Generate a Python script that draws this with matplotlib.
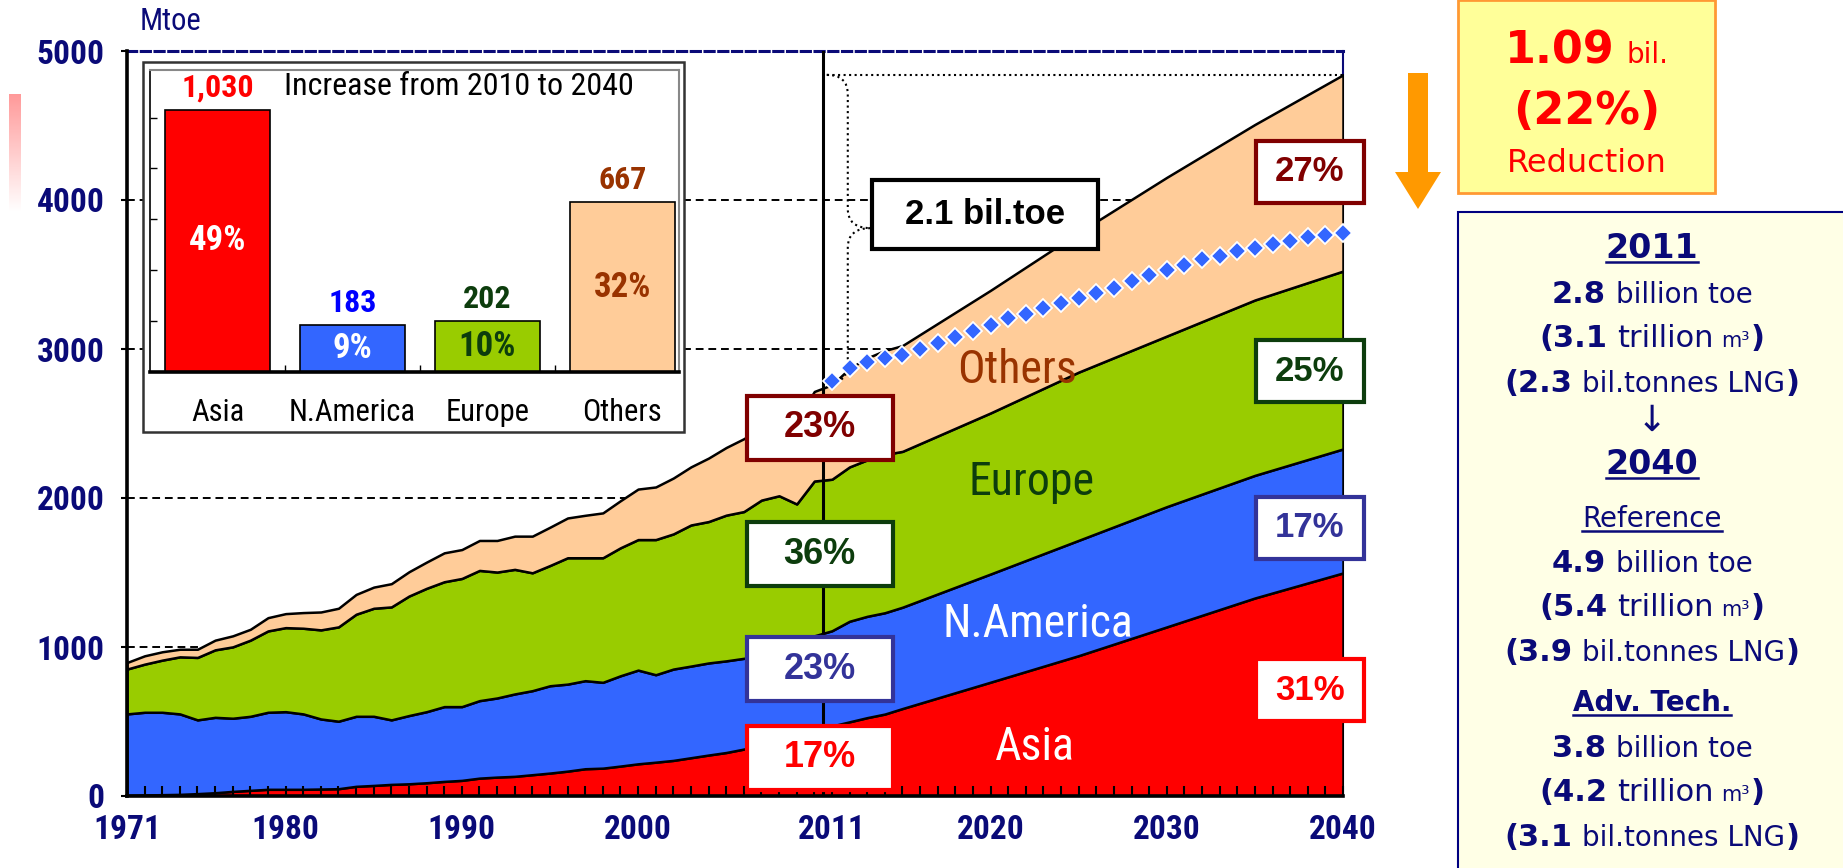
import numpy as np
import matplotlib
matplotlib.use("Agg")
import matplotlib.pyplot as plt
from matplotlib.patches import Rectangle, Polygon, PathPatch
from matplotlib.path import Path
from matplotlib.lines import Line2D
from matplotlib.colors import LinearSegmentedColormap
from matplotlib import font_manager

# ---- data (Mtoe) ----
years = list(range(1971, 2015)) + [2015, 2020, 2025, 2030, 2035, 2040]

asia = [4, 7, 9, 11, 16, 22, 31, 38, 45, 45, 45, 47, 49, 65, 71, 78, 82, 89, 98, 105,
        120, 127, 132, 143, 154, 167, 183, 187, 201, 216, 227, 239, 257, 275, 292, 315,
        345, 385, 420, 465, 470, 498, 526, 550,
        587, 764, 942, 1135, 1329, 1497]
namerica = [547, 555, 553, 540, 495, 506, 491, 497, 517, 521, 506, 470, 453, 470, 464,
            433, 458, 477, 502, 495, 520, 531, 553, 564, 586, 584, 591, 576, 606, 629,
            587, 613, 615, 618, 615, 609, 590, 570, 550, 610, 639, 675, 680, 680,
            680, 726, 774, 807, 823, 832]
europe = [301, 323, 350, 383, 419, 453, 479, 511, 546, 564, 575, 598, 633, 685, 725,
          758, 802, 828, 838, 860, 874, 845, 836, 791, 807, 848, 825, 836, 859, 876,
          907, 907, 947, 949, 978, 985, 1051, 1060, 990, 1039, 1017, 1036, 1050, 1062,
          1046, 1081, 1129, 1145, 1177, 1194]
others = [44, 56, 56, 51, 55, 65, 74, 73, 89, 94, 105, 120, 125, 133, 142, 156, 163,
          176, 194, 194, 201, 212, 223, 246, 257, 267, 285, 301, 316, 339, 353, 375,
          390, 426, 454, 489, 484, 535, 560, 601, 634, 661, 684, 698,
          710, 823, 936, 1065, 1178, 1317]

# Advanced technologies case, total 2011-2040
adv_years = list(range(2011, 2041))
adv_total = [2782, 2871, 2911, 2942, 2960, 2998, 3038, 3082, 3122, 3160, 3205, 3238,
             3276, 3310, 3343, 3379, 3412, 3454, 3494, 3532, 3566, 3601, 3624, 3655,
             3677, 3705, 3722, 3751, 3768, 3777]

regions = ["Asia", "N.America", "Europe", "Others"]
increase = [1030, 183, 202, 667]
increase_share = ["49%", "9%", "10%", "32%"]
share_2011 = ["17%", "23%", "36%", "23%"]
share_2040 = ["31%", "17%", "25%", "27%"]

x_ticks = [1971, 1980, 1990, 2000, 2011, 2020, 2030, 2040]
y_ticks = [0, 1000, 2000, 3000, 4000, 5000]

# ---- style ----
W, H = 1843, 868
NAVY = "#0a0a78"
C_ASIA, C_NA, C_EU, C_OT = "#ff0000", "#3366ff", "#99cc00", "#ffcc99"
DARK_RED, DARK_GREEN, DARK_BLUE, BROWN = "#800000", "#0d3d0d", "#333399", "#993300"

names = {f.name for f in font_manager.fontManager.ttflist}


def pick(cands, default="DejaVu Sans"):
    for c in cands:
        if c in names:
            return c
    return default


NARROW = pick(["Liberation Sans Narrow", "Arial Narrow", "Roboto Condensed", "Archivo Narrow",
               "PT Sans Narrow", "IBM Plex Sans Condensed", "Open Sans Condensed"])
ARIAL = pick(["Liberation Sans", "Arimo", "Arial"])


def fx(px):
    return px / W


def fy(py):
    return 1 - py / H


fig = plt.figure(figsize=(W / 100, H / 100), dpi=100)
fig.patch.set_facecolor("white")

# ---- main stacked area chart ----
AX_L, AX_R, AX_T, AX_B = 127, 1343, 51, 796
ax = fig.add_axes([fx(AX_L), fy(AX_B), (AX_R - AX_L) / W, (AX_B - AX_T) / H])

ax.stackplot(years, asia, namerica, europe, others,
             colors=[C_ASIA, C_NA, C_EU, C_OT], edgecolor="black", linewidth=1.8, zorder=1)

for v in y_ticks[1:-1]:
    ax.axhline(v, color="black", lw=1.4, ls=(0, (4, 2.5)), zorder=0.5)

ax.axvline(2010.5, color="black", lw=2.2, zorder=3)

ax.plot(adv_years, adv_total, "D", color="#3366ff", mec="white", mew=1.3, ms=9.5,
        zorder=4, clip_on=False)

# 2.1 bil.toe gap: dotted line + brace
top = sum(s[-1] for s in (asia, namerica, europe, others))
bottom = adv_total[0]
mid = (top + bottom) / 2
x0, xb, xt, d = 2010.7, 2011.9, 2013.2, 130
verts = [(x0, top), (xb, top), (xb, top - d), (xb, mid + d), (xb, mid), (xt, mid),
         (xb, mid), (xb, mid - d), (xb, bottom + d), (xb, bottom), (2011.1, bottom)]
codes = [Path.MOVETO, Path.CURVE3, Path.CURVE3, Path.LINETO, Path.CURVE3, Path.CURVE3,
         Path.CURVE3, Path.CURVE3, Path.LINETO, Path.CURVE3, Path.CURVE3]
ax.add_patch(PathPatch(Path(verts, codes), fc="none", ec="black", lw=1.5, ls=":", zorder=3))
ax.plot([x0, 2040], [top, top], color="black", lw=1.5, ls=":", zorder=3)


def box_text(x, y, text, color, wpx, hpx, size=24, lw=3):
    xf = (x - 1971) / 69
    yf = y / 5000
    wf = wpx / (AX_R - AX_L)
    hf = hpx / (AX_B - AX_T)
    ax.add_patch(Rectangle((xf - wf / 2, yf - hf / 2), wf, hf, transform=ax.transAxes,
                           fc="white", ec=color, lw=lw, zorder=5, clip_on=False))
    ax.text(xf, yf, text, transform=ax.transAxes, ha="center", va="center",
            fontsize=size, fontweight="bold", color=color, family=ARIAL, zorder=6)


box_text(2019.7, 3900, "2.1 bil.toe", "black", 226, 69, size=25)

share_colors = [C_ASIA, DARK_BLUE, DARK_GREEN, DARK_RED]
for txt, col, yv in zip(share_2011, share_colors, [256, 852, 1624, 2470]):
    box_text(2010.3, yv, txt, col, 146, 64, size=26)
for txt, col, yv in zip(share_2040, share_colors, [711, 1802, 2852, 4188]):
    box_text(2038.1, yv, txt, col, 108, 62, size=25)

for txt, col, xv, yv in [("Others", BROWN, 2021.5, 2860), ("Europe", DARK_GREEN, 2022.3, 2107),
                         ("N.America", "white", 2022.7, 1154), ("Asia", "white", 2022.5, 329)]:
    ax.text(xv, yv, txt, ha="center", va="center", fontsize=33, color=col,
            family=NARROW, zorder=6)

ax.set_xlim(1971, 2040)
ax.set_ylim(0, 5000)
ax.set_xticks(x_ticks)
ax.set_xticks(list(range(1971, 2041)), minor=True)
ax.set_yticks(y_ticks)
ax.tick_params(axis="x", which="both", direction="in", length=7, width=1.5, color="black")
ax.tick_params(axis="x", which="major", pad=13, labelsize=24, labelcolor=NAVY)
ax.tick_params(axis="y", direction="out", length=4, width=1.5, pad=12,
               labelsize=24, labelcolor=NAVY)
for lab in ax.get_xticklabels() + ax.get_yticklabels():
    lab.set_fontfamily(NARROW)
    lab.set_fontweight("bold")

for side in ("left", "bottom"):
    ax.spines[side].set_linewidth(2.6)
    ax.spines[side].set_zorder(3.5)
ax.spines["top"].set_color(NAVY)
ax.spines["top"].set_linewidth(2.2)
ax.spines["top"].set_linestyle((0, (3, 1.5)))
ax.spines["right"].set_color(NAVY)
ax.spines["right"].set_linewidth(1.5)
ax.spines["right"].set_zorder(0.5)

fig.text(fx(170), fy(22), "Mtoe", ha="center", va="center", fontsize=22,
         color=NAVY, family=NARROW)

# ---- inset: increase from 2010 to 2040 ----
fig.add_artist(Rectangle((fx(143), fy(432)), 541 / W, 370 / H, transform=fig.transFigure,
                         fc="white", ec="#333333", lw=1.8, zorder=2))
axin = fig.add_axes([fx(150), fy(372), 529 / W, 302 / H], zorder=3)
bars = axin.bar(range(4), increase, width=0.78, color=[C_ASIA, C_NA, C_EU, C_OT],
                edgecolor="black", linewidth=1.2)
axin.set_xlim(-0.5, 3.42)
axin.set_ylim(0, 1187)
axin.set_xticks(range(4), regions)
axin.set_xticks([0.5, 1.5, 2.5], minor=True)
axin.set_yticks([])
axin.set_yticks([200, 400, 600, 800, 1000], minor=True)
axin.tick_params(axis="x", which="major", length=0, pad=19, labelsize=22)
axin.tick_params(which="minor", direction="in", length=5, width=1)
for lab in axin.get_xticklabels():
    lab.set_fontfamily(NARROW)
axin.spines["left"].set_linewidth(1.2)
axin.spines["bottom"].set_linewidth(2.6)
for side in ("top", "right"):
    axin.spines[side].set_color("#888888")
    axin.spines[side].set_linewidth(1.5)

value_colors = [C_ASIA, "#0000ff", DARK_GREEN, BROWN]
share_in_colors = ["white", "white", DARK_GREEN, BROWN]
for i, (v, s) in enumerate(zip(increase, increase_share)):
    axin.annotate(f"{v:,}", (i, v), xytext=(0, 5), textcoords="offset points",
                  ha="center", va="bottom", fontsize=23, fontweight="bold",
                  color=value_colors[i], family=NARROW)
    axin.text(i, v / 2, s, ha="center", va="center", fontsize=25, fontweight="bold",
              color=share_in_colors[i], family=NARROW)
axin.text(0.584, 0.945, "Increase from 2010 to 2040", transform=axin.transAxes,
          ha="center", va="center", fontsize=23, family=NARROW)

# ---- right panel ----
fig.add_artist(Polygon([(fx(1408), fy(73)), (fx(1428), fy(73)), (fx(1428), fy(172)),
                        (fx(1441), fy(172)), (fx(1418), fy(209)), (fx(1395), fy(172)),
                        (fx(1408), fy(172))], closed=True, transform=fig.transFigure,
                       fc="#ff9900", ec="none", zorder=2))
fig.add_artist(Rectangle((fx(1458), fy(193)), 257 / W, 193 / H, transform=fig.transFigure,
                         fc="#ffff99", ec="#ff9933", lw=2, zorder=2))
fig.add_artist(Rectangle((fx(1458), fy(880)), 400 / W, 668 / H, transform=fig.transFigure,
                         fc="#ffffe6", ec="#000080", lw=1.5, zorder=2))

# faded pink strip at left edge
grad_ax = fig.add_axes([fx(9), fy(212), 12 / W, 118 / H])
pink = LinearSegmentedColormap.from_list("pink", ["white", "#ff9999"])
grad_ax.imshow(np.linspace(0, 1, 100)[:, None], aspect="auto", cmap=pink, origin="lower")
grad_ax.axis("off")

renderer = fig.canvas.get_renderer()


def rich_line(xc, yc, parts, color, underline=False):
    items = []
    for s, size, weight, gap in parts:
        t = fig.text(0, 0, s, fontsize=size, fontweight=weight, color=color,
                     family="DejaVu Sans", va="baseline", ha="left", zorder=5)
        items.append((t, t.get_window_extent(renderer).width, gap))
    total = sum(w + g for _, w, g in items)
    base = yc + 0.36 * max(p[1] for p in parts) * 100 / 72
    x = xc - total / 2
    for t, w, g in items:
        x += g
        t.set_position((fx(x), fy(base)))
        x += w
    if underline:
        fig.add_artist(Line2D([fx(xc - total / 2), fx(xc + total / 2)],
                              [fy(base + 4), fy(base + 4)], color=color, lw=1.8, zorder=5))


RED = "#ff0000"
rich_line(1587, 47, [("1.09", 32, "bold", 0), ("bil.", 20, "normal", 12)], RED)
rich_line(1587, 108, [("(22%)", 32, "bold", 0)], RED)
rich_line(1587, 160, [("Reduction", 23, "normal", 0)], RED)


def amount_lines(y0, toe, m3, lng):
    rich_line(1652, y0, [(toe, 22, "bold", 0), ("billion toe", 20, "normal", 10)], NAVY)
    rich_line(1652, y0 + 44, [("(" + m3, 22, "bold", 0), ("trillion", 22, "normal", 10),
                              ("m³", 15, "normal", 7), (")", 22, "bold", 1)], NAVY)
    rich_line(1652, y0 + 89, [("(" + lng, 22, "bold", 0), ("bil.tonnes LNG", 20, "normal", 10),
                              (")", 22, "bold", 1)], NAVY)


rich_line(1652, 246, [("2011", 24, "bold", 0)], NAVY, underline=True)
amount_lines(292, "2.8", "3.1", "2.3")
fig.text(fx(1652), fy(421), "↓", ha="center", va="center", fontsize=26,
         color=NAVY, family="DejaVu Sans", zorder=5)
rich_line(1652, 462, [("2040", 24, "bold", 0)], NAVY, underline=True)
rich_line(1652, 517, [("Reference", 20, "normal", 0)], NAVY, underline=True)
amount_lines(561, "4.9", "5.4", "3.9")
rich_line(1652, 701, [("Adv. Tech.", 20, "bold", 0)], NAVY, underline=True)
amount_lines(746, "3.8", "4.2", "3.1")

fig.savefig("out.png", dpi=100)
